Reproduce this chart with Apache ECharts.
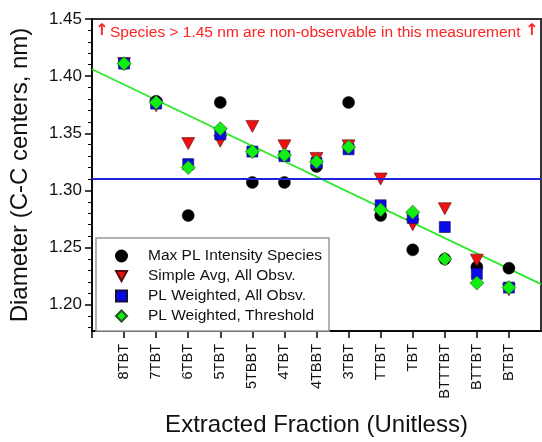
<!DOCTYPE html>
<html>
<head>
<meta charset="utf-8">
<script src="https://cdn.jsdelivr.net/npm/echarts@6/dist/echarts.min.js"></script>
<style>
  html, body { margin: 0; padding: 0; background: #fff; }
  #main { width: 542px; height: 442px; }
</style>
</head>
<body>
<div id="main"></div>
<script>
// data
var categories = ['8TBT', '7TBT', '6TBT', '5TBT', '5TBBT', '4TBT', '4TBBT', '3TBT', 'TTBT', 'TBT', 'BTTTBT', 'BTTBT', 'BTBT'];
var maxPL       = [1.411, 1.378, 1.278, 1.377, 1.307, 1.307, 1.321, 1.377, 1.278, 1.248, 1.240, 1.233, 1.232];
var simpleAvg   = [1.411, 1.374, 1.341, 1.343, 1.356, 1.339, 1.328, 1.339, 1.310, 1.270, 1.284, 1.239, 1.213];
var plWeighted  = [1.411, 1.376, 1.323, 1.349, 1.334, 1.330, 1.324, 1.336, 1.287, 1.276, 1.268, 1.227, 1.215];
var plThreshold = [1.411, 1.377, 1.320, 1.354, 1.334, 1.331, 1.325, 1.338, 1.283, 1.281, 1.240, 1.219, 1.215];
// linear fit, values at left and right edge of the plot
var fitLine = [1.406, 1.218];
var meanLine = 1.309;
var yMajorTicks = [1.20, 1.25, 1.30, 1.35, 1.40, 1.45];
var yMinorTicks = [1.18, 1.19, 1.21, 1.22, 1.23, 1.24, 1.26, 1.27, 1.28, 1.29, 1.31, 1.32, 1.33, 1.34,
                   1.36, 1.37, 1.38, 1.39, 1.41, 1.42, 1.43, 1.44];

var FONT = 'Liberation Sans';
var axisCats = [''].concat(categories).concat(['']);
var TRI_DOWN = 'path://M0,0 L12,0 L6,11 Z';

function pairs(vals) {
    return categories.map(function (c, i) { return [c, vals[i]]; });
}

var myChart = echarts.init(document.getElementById('main'));

var option = {
    animation: false,
    backgroundColor: '#fff',
    textStyle: { fontFamily: FONT },
    grid: {
        left: 90, right: 1, top: 19, bottom: 103,
        show: true, borderColor: '#333', borderWidth: 2, backgroundColor: 'transparent'
    },
    legend: {
        orient: 'vertical',
        left: 96, top: 238,
        padding: [10, 7, 7, 19],
        itemWidth: 11, itemHeight: 11, itemGap: 4,
        backgroundColor: '#fff',
        borderColor: '#999', borderWidth: 1.5,
        textStyle: { fontFamily: FONT, fontSize: 15.5, lineHeight: 15, color: '#111', padding: [0, 0, 0, 16] },
        data: [
            { name: 'Max PL Intensity Species', icon: 'circle' },
            { name: 'Simple Avg, All Obsv.', icon: TRI_DOWN },
            { name: 'PL Weighted, All Obsv.', icon: 'rect' },
            { name: 'PL Weighted, Threshold', icon: 'diamond' }
        ]
    },
    xAxis: {
        type: 'category',
        data: axisCats,
        boundaryGap: false,
        name: 'Extracted Fraction (Unitless)',
        nameLocation: 'middle',
        nameGap: 82,
        nameTextStyle: { fontFamily: FONT, fontSize: 24, color: '#111' },
        axisLine: { lineStyle: { color: '#000', width: 1.5 } },
        axisTick: {
            length: 7, lineStyle: { color: '#000', width: 1.5 },
            interval: function (idx) { return idx < axisCats.length - 1; }
        },
        axisLabel: { rotate: 90, margin: 13, interval: 0, fontFamily: FONT, fontSize: 14.5, color: '#111' },
        splitLine: { show: false }
    },
    yAxis: [{
        type: 'value',
        min: 1.177, max: 1.45,
        name: 'Diameter (C-C centers, nm)',
        nameLocation: 'middle',
        nameGap: 60,
        nameTextStyle: { fontFamily: FONT, fontSize: 24, color: '#111' },
        axisLine: { show: true, lineStyle: { color: '#000', width: 1.5 } },
        axisTick: { show: true, length: 7, customValues: yMajorTicks, lineStyle: { color: '#000', width: 1.5 } },
        axisLabel: {
            customValues: yMajorTicks, margin: 10, fontFamily: FONT, fontSize: 17, color: '#111',
            formatter: function (v) { return v.toFixed(2); }
        },
        splitLine: { show: false }
    }, {
        type: 'value',
        position: 'left',
        min: 1.177, max: 1.45,
        axisLine: { show: false },
        axisTick: { show: true, length: 4, customValues: yMinorTicks, lineStyle: { color: '#000', width: 1 } },
        axisLabel: { show: false },
        splitLine: { show: false }
    }],
    series: [
        {
            name: 'fit', type: 'line', data: [[0, fitLine[0]], [axisCats.length - 1, fitLine[1]]],
            symbol: 'none', lineStyle: { color: '#2ee82e', width: 1.8 }, z: 1,
            markLine: {
                symbol: 'none', silent: true, label: { show: false },
                lineStyle: { color: '#2222dd', width: 1.8, type: 'solid' },
                data: [{ yAxis: meanLine }]
            }
        },
        {
            name: 'Max PL Intensity Species', type: 'scatter', data: pairs(maxPL),
            symbol: 'circle', symbolSize: 12, z: 2,
            itemStyle: { color: '#000', borderColor: '#000', borderWidth: 0.5, opacity: 1 }
        },
        {
            name: 'Simple Avg, All Obsv.', type: 'scatter', data: pairs(simpleAvg),
            symbol: 'triangle', symbolRotate: 180, symbolSize: [13, 12], z: 3,
            itemStyle: { color: '#ee1111', borderColor: '#551111', borderWidth: 0.6, opacity: 1 }
        },
        {
            name: 'PL Weighted, All Obsv.', type: 'scatter', data: pairs(plWeighted),
            symbol: 'rect', symbolSize: 11, z: 4,
            itemStyle: { color: '#0a0ae6', borderColor: '#111144', borderWidth: 0.6, opacity: 1 }
        },
        {
            name: 'PL Weighted, Threshold', type: 'scatter', data: pairs(plThreshold),
            symbol: 'diamond', symbolSize: 14, z: 5,
            itemStyle: { color: '#11ee11', borderColor: '#225522', borderWidth: 0.6, opacity: 1 }
        }
    ],
    graphic: [
        {
            type: 'text', left: 110, top: 25, z: 10,
            style: { text: 'Species > 1.45 nm are non-observable in this measurement', fill: '#ff2222', font: '15.5px "Liberation Sans"' }
        },
        {
            type: 'text', left: 95, top: 23, z: 10,
            style: { text: '↑', fill: '#ff2222', font: 'bold 16px "DejaVu Sans"' }
        },
        {
            type: 'text', left: 525, top: 23, z: 10,
            style: { text: '↑', fill: '#ff2222', font: 'bold 16px "DejaVu Sans"' }
        }
    ]
};

myChart.setOption(option);
</script>
</body>
</html>
